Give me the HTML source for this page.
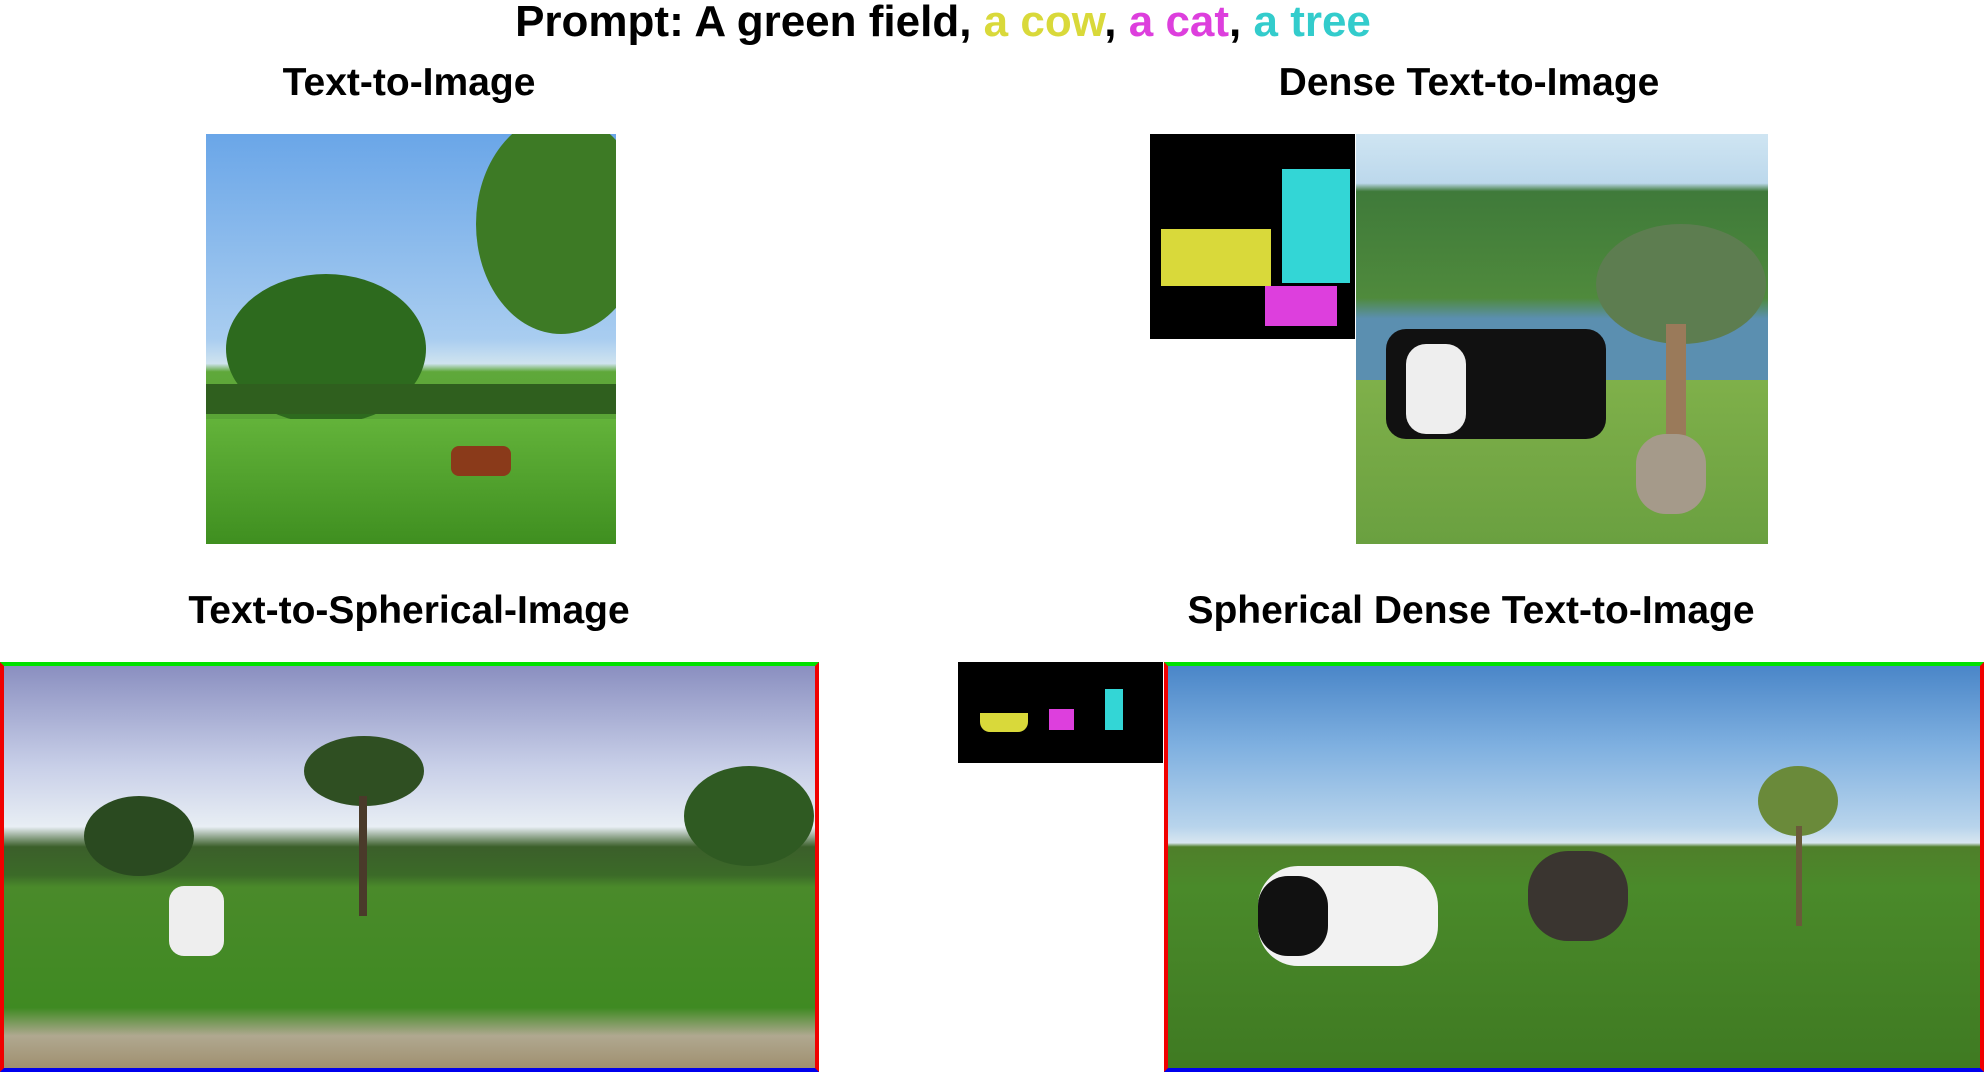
<!DOCTYPE html>
<html><head><style>
body{margin:0;width:1984px;height:1072px;background:#fff;position:relative;overflow:hidden;font-family:"Liberation Sans",sans-serif;font-weight:bold;}
.t{position:absolute;white-space:nowrap;transform:translateX(-50%);color:#000;}
.b{position:absolute;}
</style></head><body>
<div class="t" style="left:943px;top:-3px;font-size:44px;letter-spacing:0px;">Prompt: A green field, <span style="color:#d9d93a">a cow</span>, <span style="color:#dd3fdd">a cat</span>, <span style="color:#33cccc">a tree</span></div>
<div class="t" style="left:409px;top:61px;font-size:39px;">Text-to-Image</div>
<div class="t" style="left:1469px;top:61px;font-size:39px;">Dense Text-to-Image</div>
<div class="t" style="left:409px;top:589px;font-size:39px;">Text-to-Spherical-Image</div>
<div class="t" style="left:1471px;top:589px;font-size:39px;">Spherical Dense Text-to-Image</div>

<div class="b" style="left:206px;top:134px;width:410px;height:410px;background:linear-gradient(#6aa6e8 0%,#a9cdf0 50%,#cfe3ef 56%,#5fa83a 58%,#4a9a2a 100%);overflow:hidden">
 <div class="b" style="left:20px;top:140px;width:200px;height:150px;border-radius:50%;background:#2d6a1e"></div>
 <div class="b" style="left:270px;top:-20px;width:170px;height:220px;border-radius:50%;background:#3d7a25"></div>
 <div class="b" style="left:0;top:250px;width:410px;height:30px;background:#2f5f1e"></div>
 <div class="b" style="left:0;top:285px;width:410px;height:125px;background:linear-gradient(#63b33a,#3f8f20)"></div>
 <div class="b" style="left:245px;top:312px;width:60px;height:30px;background:#8a3a1a;border-radius:8px"></div>
</div>

<div class="b" style="left:1150px;top:134px;width:205px;height:205px;background:#000">
 <div class="b" style="left:11px;top:95px;width:110px;height:57px;background:#d9d93a"></div>
 <div class="b" style="left:132px;top:35px;width:68px;height:114px;background:#33d6d6"></div>
 <div class="b" style="left:115px;top:152px;width:72px;height:40px;background:#dd3fdd"></div>
</div>
<div class="b" style="left:1356px;top:134px;width:412px;height:410px;background:linear-gradient(#cfe5f2 0%,#bcd8ec 12%,#3f7a3a 14%,#4f8a3c 40%,#5b8fb0 45%,#5b8fb0 60%,#7fb04a 60%,#6aa040 100%);overflow:hidden">
 <div class="b" style="left:240px;top:90px;width:170px;height:120px;border-radius:50%;background:#5d7d50"></div>
 <div class="b" style="left:310px;top:190px;width:20px;height:120px;background:#9a7a5a"></div>
 <div class="b" style="left:30px;top:195px;width:220px;height:110px;background:#111;border-radius:20px"></div>
 <div class="b" style="left:50px;top:210px;width:60px;height:90px;background:#eee;border-radius:20px"></div>
 <div class="b" style="left:280px;top:300px;width:70px;height:80px;background:#a59a8a;border-radius:30px"></div>
</div>

<div class="b" style="left:0;top:662px;width:819px;height:410px;box-sizing:border-box;border-top:4px solid #00e000;border-left:4px solid #f00000;border-right:4px solid #f00000;border-bottom:4px solid #0000ee;background:linear-gradient(#8a8fc0 0%,#c8cfe8 25%,#e8eef4 40%,#3b5f2a 45%,#3b6a28 52%,#4a8a2a 55%,#3f8a22 85%,#b0a890 92%,#a09070 100%);overflow:hidden">
 <div class="b" style="left:80px;top:130px;width:110px;height:80px;border-radius:50%;background:#2a4a20"></div>
 <div class="b" style="left:300px;top:70px;width:120px;height:70px;border-radius:50%;background:#2f4f22"></div>
 <div class="b" style="left:355px;top:130px;width:8px;height:120px;background:#4a3a2a"></div>
 <div class="b" style="left:680px;top:100px;width:130px;height:100px;border-radius:50%;background:#2f5a22"></div>
 <div class="b" style="left:165px;top:220px;width:55px;height:70px;background:#eee;border-radius:15px"></div>
</div>

<div class="b" style="left:958px;top:662px;width:205px;height:101px;background:#000">
 <div class="b" style="left:22px;top:51px;width:48px;height:19px;background:#d9d93a;border-radius:0 0 10px 10px"></div>
 <div class="b" style="left:91px;top:47px;width:25px;height:21px;background:#dd3fdd"></div>
 <div class="b" style="left:147px;top:27px;width:18px;height:41px;background:#33d6d6"></div>
</div>

<div class="b" style="left:1164px;top:662px;width:820px;height:410px;box-sizing:border-box;border-top:4px solid #00e000;border-left:4px solid #f00000;border-right:4px solid #f00000;border-bottom:4px solid #0000ee;background:linear-gradient(#4a86c8 0%,#7fb0e0 20%,#b8d4ec 40%,#d8e6f0 44%,#4f7f2a 45%,#4a8a2a 55%,#3f7a22 100%);overflow:hidden">
 <div class="b" style="left:90px;top:200px;width:180px;height:100px;background:#f2f2f2;border-radius:40px"></div>
 <div class="b" style="left:90px;top:210px;width:70px;height:80px;background:#111;border-radius:30px"></div>
 <div class="b" style="left:360px;top:185px;width:100px;height:90px;background:#3a3530;border-radius:40px"></div>
 <div class="b" style="left:590px;top:100px;width:80px;height:70px;border-radius:50%;background:#6a8a3a"></div>
 <div class="b" style="left:628px;top:160px;width:6px;height:100px;background:#6a5a3a"></div>
</div>
</body></html>
